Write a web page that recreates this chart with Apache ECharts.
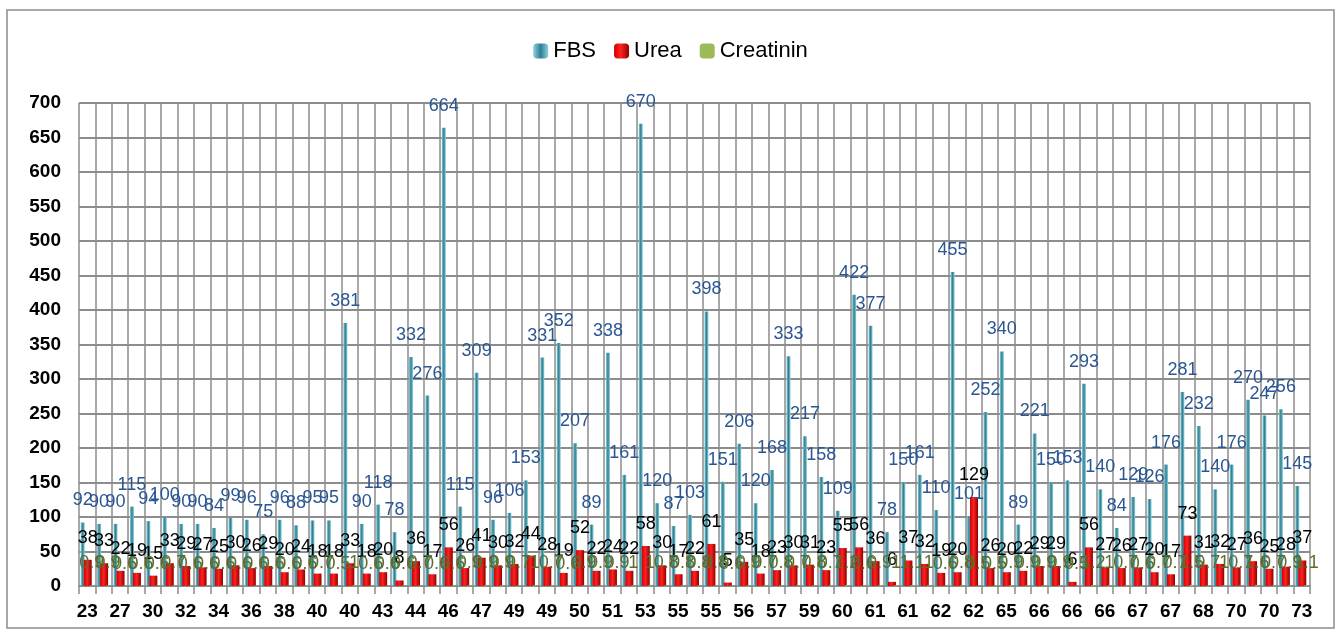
<!DOCTYPE html>
<html>
<head>
<meta charset="utf-8">
<script src="https://cdn.jsdelivr.net/npm/echarts@6/dist/echarts.min.js"></script>
<style>
  html, body { margin: 0; padding: 0; background: #fff; }
  #chart { width: 1341px; height: 635px; }
</style>
</head>
<body>
<div id="chart"></div>
<script>
// ages (x categories)
const ages = [
  '23', '25', '27', '28', '30', '31', '32', '33', '34', '35',
  '36', '37', '38', '39', '40', '40', '40', '42', '43', '43',
  '44', '45', '46', '46', '47', '48', '49', '49', '49', '50',
  '50', '50', '51', '52', '53', '54', '55', '55', '55', '56',
  '56', '57', '57', '58', '59', '60', '60', '60', '61', '61',
  '61', '62', '62', '62', '62', '64', '65', '65', '66', '66',
  '66', '66', '66', '67', '67', '67', '67', '68', '68', '69',
  '70', '70', '70', '72', '73'
]
const fbs = [
  92, 90, 90, 115, 94, 100, 90, 90, 84, 99,
  96, 75, 96, 88, 95, 95, 381, 90, 118, 78,
  332, 276, 664, 115, 309, 96, 106, 153, 331, 352,
  207, 89, 338, 161, 670, 120, 87, 103, 398, 151,
  206, 120, 168, 333, 217, 158, 109, 422, 377, 78,
  150, 161, 110, 455, 101, 252, 340, 89, 221, 150,
  153, 293, 140, 84, 129, 126, 176, 281, 232, 140,
  176, 270, 247, 256, 145
]
const urea = [
  38, 33, 22, 19, 15, 33, 29, 27, 25, 30,
  26, 29, 20, 24, 18, 18, 33, 18, 20, 8,
  36, 17, 56, 26, 41, 30, 32, 44, 28, 19,
  52, 22, 24, 22, 58, 30, 17, 22, 61, 5,
  35, 18, 23, 30, 31, 23, 55, 56, 36, 6,
  37, 32, 19, 20, 129, 26, 20, 22, 29, 29,
  6, 56, 27, 26, 27, 20, 17, 73, 31, 32,
  27, 36, 25, 28, 37
]
const creatinin = [
  0.9, 0.9, 0.6, 0.6, 0.6, 0.7, 0.6, 0.6, 0.6, 0.6,
  0.6, 0.6, 0.6, 0.6, 0.7, 0.5, 1, 0.6, 0.6, 0.6,
  0.7, 0.6, 0.6, 0.9, 0.9, 0.9, 0.7, 1, 0.7, 0.6,
  0.9, 0.9, 0.9, 1, 1, 0.8, 0.8, 0.8, 0.8, 0.6,
  0.9, 0.7, 0.8, 0.7, 0.8, 0.7, 1.2, 0.6, 0.9, 1,
  1.1, 1, 0.6, 0.8, 0.5, 0.5, 0.9, 0.9, 0.9, 0.9,
  0.5, 1.2, 1, 0.7, 0.6, 0.7, 0.7, 1.5, 0.7, 1,
  0.7, 1.6, 0.7, 0.9, 1.1
]

const chart = echarts.init(document.getElementById('chart'))

const labelFont = 'Liberation Sans'

const option = {
  animation: false,
  backgroundColor: '#fff',
  graphic: [{
    type: 'rect',
    shape: { x: 7, y: 10, width: 1327, height: 618 },
    style: { fill: 'none', stroke: '#8c8c8c', lineWidth: 1.5 },
    silent: true
  }],
  legend: {
    top: 35,
    left: 'center',
    itemWidth: 15,
    itemHeight: 15,
    itemGap: 18,
    textStyle: { fontFamily: labelFont, fontSize: 22, color: '#000' },
    data: ['FBS', 'Urea', 'Creatinin']
  },
  grid: { left: 79, right: 31, top: 103, bottom: 49 },
  xAxis: {
    type: 'category',
    data: ages,
    axisLine: { lineStyle: { color: '#8c8c8c', width: 2 } },
    axisTick: { show: true, interval: 0, length: 8, lineStyle: { color: '#8c8c8c', width: 1.5 } },
    axisLabel: {
      interval: 1,
      margin: 16,
      fontFamily: labelFont,
      fontWeight: 'bold',
      fontSize: 19,
      color: '#000'
    },
    splitLine: { show: true, interval: 0, lineStyle: { color: '#8c8c8c', width: 1.5 } }
  },
  yAxis: {
    type: 'value',
    min: 0,
    max: 700,
    interval: 50,
    axisLine: { show: false },
    axisTick: { show: false },
    axisLabel: {
      margin: 18,
      fontFamily: labelFont,
      fontWeight: 'bold',
      fontSize: 19,
      color: '#000'
    },
    splitLine: { lineStyle: { color: '#8c8c8c', width: 2 } }
  },
  series: [
    {
      name: 'FBS',
      type: 'bar',
      data: fbs,
      barWidth: 4,
      barGap: '-25%',
      itemStyle: {
        color: new echarts.graphic.LinearGradient(0, 0, 1, 0, [
          { offset: 0, color: '#8fd0dc' },
          { offset: 0.5, color: '#2d7f92' },
          { offset: 1, color: '#8fd0dc' }
        ])
      },
      label: {
        show: true,
        position: 'top',
        distance: 13,
        fontFamily: labelFont,
        fontSize: 18,
        color: '#2a5694'
      }
    },
    {
      name: 'Urea',
      type: 'bar',
      data: urea,
      barWidth: 8,
      barGap: '-25%',
      itemStyle: {
        color: new echarts.graphic.LinearGradient(0, 0, 1, 0, [
          { offset: 0, color: '#d00000' },
          { offset: 0.45, color: '#ff2222' },
          { offset: 1, color: '#900000' }
        ])
      },
      label: {
        show: true,
        position: 'top',
        distance: 13,
        fontFamily: labelFont,
        fontSize: 18,
        color: '#000'
      }
    },
    {
      name: 'Creatinin',
      type: 'bar',
      data: creatinin,
      barWidth: 4,
      barGap: '-25%',
      itemStyle: { color: '#9bbb59' },
      label: {
        show: true,
        position: 'top',
        distance: 13,
        fontFamily: labelFont,
        fontSize: 18,
        color: '#5a6e2a'
      }
    }
  ]
}

chart.setOption(option)
</script>
</body>
</html>
